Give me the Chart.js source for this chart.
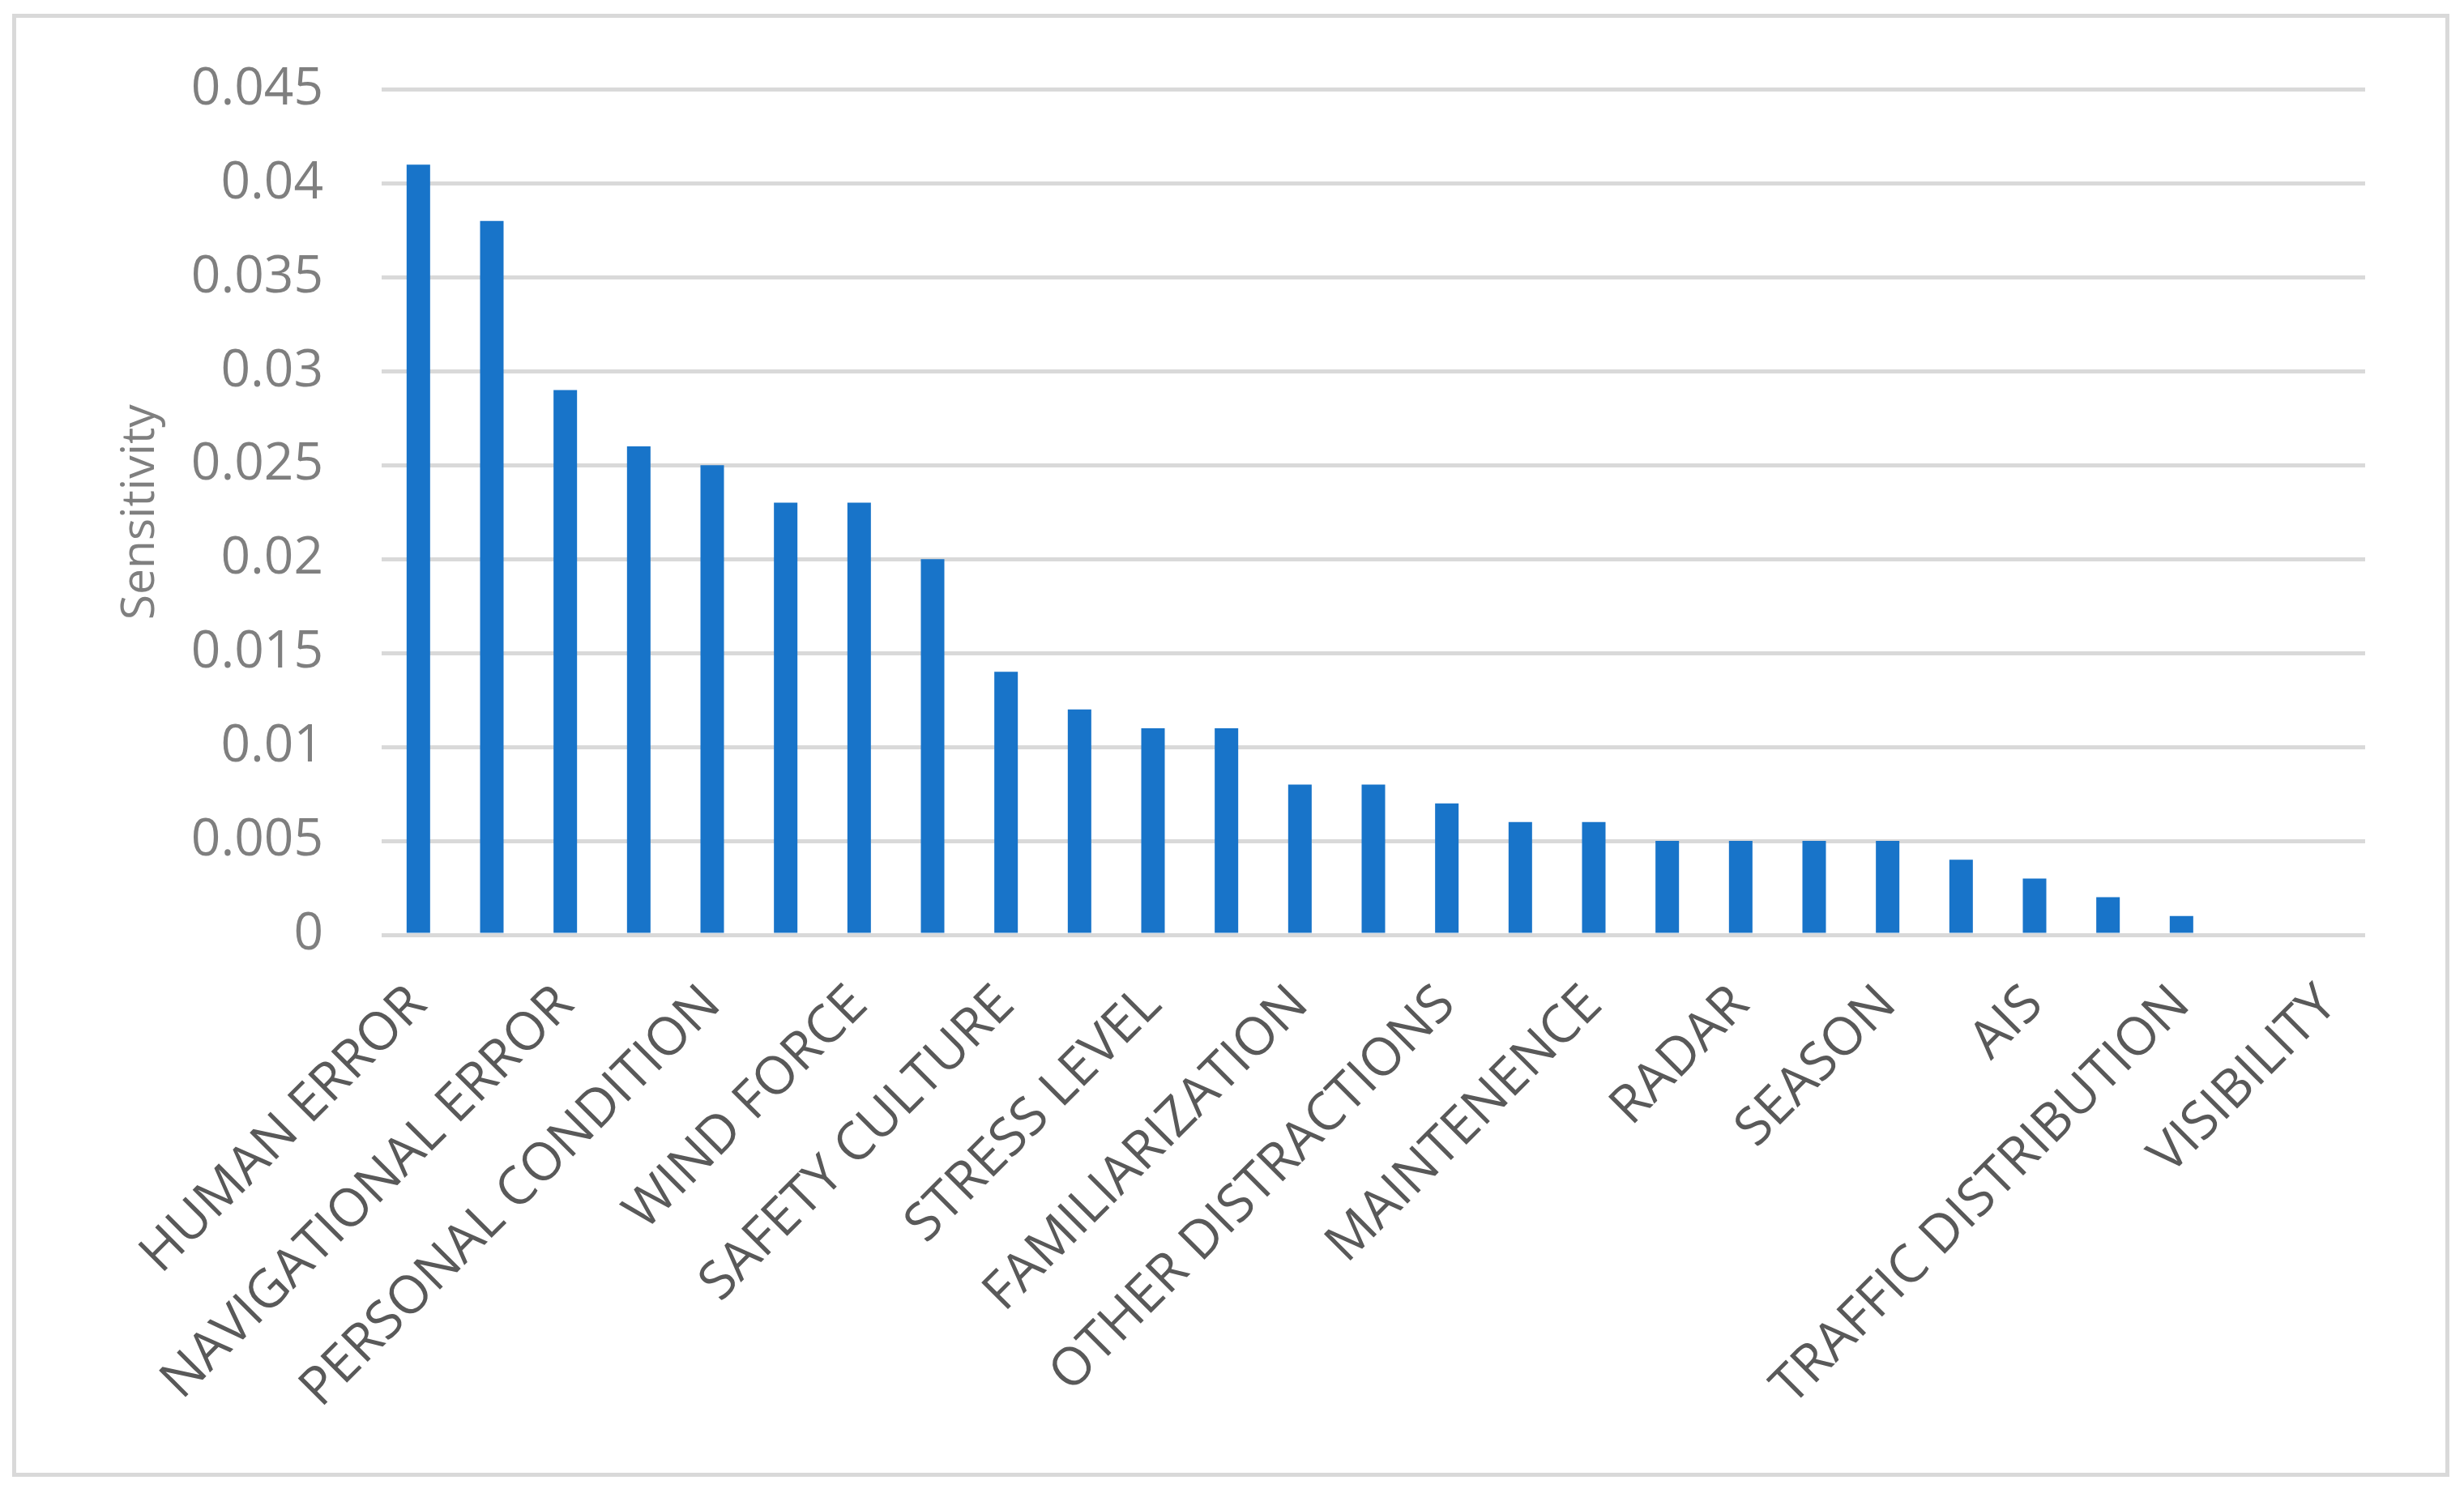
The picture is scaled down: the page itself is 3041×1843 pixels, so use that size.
<!DOCTYPE html>
<html>
<head>
<meta charset="utf-8">
<script src="https://cdn.jsdelivr.net/npm/chart.js@4.4.1/dist/chart.umd.min.js"></script>
<style>
    html, body { margin: 0; padding: 0; background: #fff; }
    #frame {
        position: absolute; left: 15px; top: 17px;
        width: 2998px; height: 1796px;
        border: 5px solid #d9d9d9;
        pointer-events: none;
    }
    #wrap { position: absolute; left: 0; top: 0; width: 3041px; height: 1843px; }
</style>
</head>
<body>
<div id="wrap"><canvas id="chart"></canvas></div>
<div id="frame"></div>
<script>
// Categorías (solo se leen las etiquetas visibles; las intermedias no aparecen en la imagen)
const categories = [
    'HUMAN ERROR', '', 'NAVIGATIONAL ERROR', '', 'PERSONAL CONDITION', '',
    'WIND FORCE', '', 'SAFETY CULTURE', '', 'STRESS LEVEL', '',
    'FAMILIARIZATION', '', 'OTHER DISTRACTIONS', '', 'MAINTENENCE', '',
    'RADAR', '', 'SEASON', '', 'AIS', '', 'TRAFFIC DISTRIBUTION', '', 'VISIBILITY'
];

const sensitivity = [
    0.041, 0.038, 0.029, 0.026, 0.025, 0.023, 0.023, 0.020, 0.014,
    0.012, 0.011, 0.011, 0.008, 0.008, 0.007, 0.006, 0.006, 0.005,
    0.005, 0.005, 0.005, 0.004, 0.003, 0.002, 0.001, 0, 0
];

const yTicks = [0, 0.005, 0.01, 0.015, 0.02, 0.025, 0.03, 0.035, 0.04, 0.045];

const FONT = "'Open Sans', 'DejaVu Sans', sans-serif";

const ctx = document.getElementById('chart').getContext('2d');

new Chart(ctx, {
    type: 'bar',
    data: {
        labels: categories,
        datasets: [{
            label: 'Sensitivity',
            data: sensitivity,
            backgroundColor: '#1874c9',
            borderWidth: 0,
            barPercentage: 0.32,
            categoryPercentage: 1
        }]
    },
    options: {
        responsive: true,
        maintainAspectRatio: false,
        animation: false,
        layout: { padding: { left: 136, top: 110, right: 122, bottom: 0 } },
        plugins: {
            legend: { display: false },
            tooltip: { enabled: false }
        },
        scales: {
            x: {
                grid: { display: false },
                border: { display: false },
                ticks: {
                    autoSkip: false,
                    minRotation: 45,
                    maxRotation: 45,
                    padding: 40,
                    color: '#595959',
                    font: { family: FONT, size: 65 }
                },
                afterFit: (scale) => { scale.height = 689; }
            },
            y: {
                min: 0,
                max: 0.045,
                afterBuildTicks: (scale) => { scale.ticks = yTicks.map(v => ({ value: v })); },
                grid: { color: '#d9d9d9', lineWidth: 5, drawTicks: false },
                border: { display: false },
                ticks: {
                    padding: 72,
                    color: '#7f7f7f',
                    font: { family: FONT, size: 64 },
                    callback: (v) => String(+Number(v).toFixed(3))
                },
                title: {
                    display: true,
                    text: 'Sensitivity',
                    color: '#7f7f7f',
                    font: { family: FONT, size: 57 }
                },
                afterFit: (scale) => { scale.width = 335; }
            }
        }
    }
});
</script>
</body>
</html>
